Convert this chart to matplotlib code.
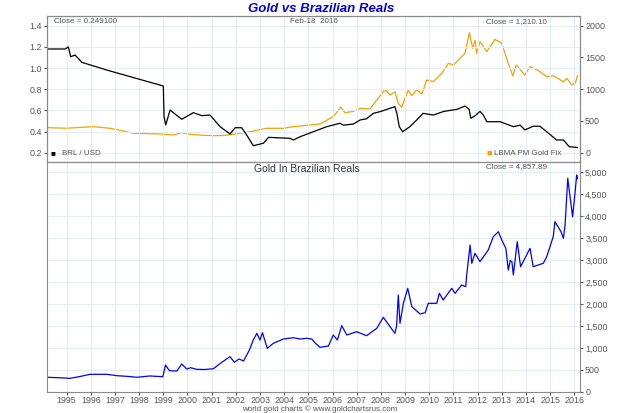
import matplotlib
matplotlib.use('Agg')
import matplotlib.pyplot as plt
from matplotlib.ticker import FuncFormatter

plt.rcParams['font.family'] = ['Liberation Sans', 'DejaVu Sans']

# ---- data (decimal years) ----
brl_years = [1994.2, 1994.94, 1995.07, 1995.17, 1995.35, 1995.63, 1996.66, 1999.0, 1999.03,
             1999.1, 1999.28, 1999.76, 2000.24, 2000.59, 2000.93, 2001.35, 2001.76, 2001.97,
             2002.24, 2002.45, 2002.72, 2003.14, 2003.35, 2004.24, 2004.38, 2004.66, 2005.2,
             2005.76, 2006.31, 2006.45, 2006.86, 2007.14, 2007.4, 2007.69, 2008.0, 2008.38,
             2008.58, 2008.66, 2008.76, 2008.9, 2009.2, 2009.48, 2009.75, 2010.17, 2010.6,
             2011.15, 2011.48, 2011.65, 2011.72, 2011.9, 2012.1, 2012.24, 2012.38, 2012.93,
             2013.48, 2013.76, 2013.96, 2014.3, 2014.58, 2014.86, 2015.27, 2015.55, 2015.79,
             2016.13]
brl_usd = [1.18, 1.18, 1.20, 1.107, 1.123, 1.054, 0.981, 0.830, 0.540,
           0.462, 0.603, 0.516, 0.578, 0.550, 0.556, 0.446, 0.377, 0.436,
           0.436, 0.367, 0.266, 0.289, 0.345, 0.336, 0.320, 0.351, 0.398,
           0.446, 0.478, 0.460, 0.471, 0.509, 0.520, 0.572, 0.590, 0.620,
           0.635, 0.572, 0.446, 0.398, 0.446, 0.509, 0.572, 0.556, 0.590,
           0.610, 0.641, 0.610, 0.525, 0.550, 0.590, 0.556, 0.493, 0.493,
           0.446, 0.460, 0.415, 0.450, 0.450, 0.398, 0.320, 0.320, 0.257,
           0.249]

gold_years = [1994.2, 1995.0, 1996.1, 1996.8, 1997.3, 1997.76, 1998.3, 1998.87, 1999.42,
              1999.76, 2000.1, 2000.6, 2001.07, 2001.5, 2001.9, 2002.58, 2003.27, 2003.97,
              2004.38, 2004.66, 2005.48, 2006.03, 2006.34, 2006.52, 2006.86, 2007.14, 2007.55,
              2007.83, 2008.17, 2008.38, 2008.58, 2008.72, 2008.86, 2009.13, 2009.27, 2009.48,
              2009.7, 2009.9, 2010.17, 2010.52, 2010.79, 2011.0, 2011.27, 2011.48, 2011.66,
              2011.8, 2011.9, 2011.96, 2012.1, 2012.38, 2012.72, 2013.0, 2013.27, 2013.46,
              2013.6, 2013.96, 2014.17, 2014.5, 2014.86, 2015.13, 2015.55, 2015.7, 2015.9,
              2016.05, 2016.13]
gold_usd = [394, 385, 410, 384, 345, 305, 300, 294, 279,
            315, 290, 275, 268, 270, 290, 331, 384, 384,
            410, 420, 452, 567, 715, 630, 650, 699, 690,
            830, 998, 908, 960, 777, 715, 987, 900, 987,
            925, 1145, 1120, 1250, 1407, 1380, 1486, 1565, 1890,
            1644, 1770, 1565, 1750, 1591, 1786, 1723, 1407, 1208,
            1380, 1224, 1355, 1297, 1197, 1213, 1118, 1170, 1066,
            1100, 1210]

real_years = [1994.2, 1994.6, 1995.14, 1995.5, 1995.97, 1996.66, 1997.07, 1997.5, 1997.9,
              1998.2, 1998.45, 1998.98, 1999.09, 1999.25, 1999.56, 1999.76, 1999.97, 2000.13,
              2000.38, 2000.7, 2001.07, 2001.42, 2001.76, 2001.94, 2002.13, 2002.32, 2002.56,
              2002.72, 2002.87, 2003.0, 2003.1, 2003.3, 2003.55, 2003.97, 2004.38, 2004.66,
              2004.93, 2005.14, 2005.3, 2005.48, 2005.83, 2006.03, 2006.2, 2006.38, 2006.59,
              2007.0, 2007.41, 2007.83, 2008.1, 2008.38, 2008.58, 2008.65, 2008.72, 2008.79,
              2008.93, 2009.11, 2009.28, 2009.62, 2009.83, 2009.96, 2010.31, 2010.42, 2010.58,
              2010.93, 2011.07, 2011.34, 2011.51, 2011.55, 2011.69, 2011.76, 2011.89, 2012.1,
              2012.44, 2012.65, 2012.86, 2013.0, 2013.17, 2013.27, 2013.35, 2013.42, 2013.48,
              2013.64, 2013.78, 2014.17, 2014.3, 2014.72, 2014.86, 2015.13, 2015.2, 2015.45,
              2015.55, 2015.62, 2015.73, 2015.8, 2015.93, 2016.03, 2016.1, 2016.13]
gold_brl = [328, 320, 305, 340, 396, 396, 365, 350, 328,
            345, 358, 342, 608, 479, 470, 631, 517, 547,
            510, 505, 524, 670, 798, 670, 745, 700, 950,
            1178, 1330, 1178, 1345, 989, 1103, 1201, 1231, 1200,
            1217, 1201, 1100, 1011, 1042, 1292, 1178, 1504, 1292,
            1367, 1276, 1444, 1695, 1481, 1330, 1500, 2204, 1558,
            2014, 2356, 1937, 1771, 1800, 2014, 2014, 2242, 2090,
            2356, 2242, 2432, 2394, 2660, 3343, 2926, 3154, 2963,
            3229, 3533, 3646, 3457, 3268, 2773, 2990, 2963, 2660,
            3419, 2849, 3268, 2849, 2926, 3077, 3533, 3874, 3650,
            3496, 3800, 4863, 4557, 3988, 4522, 4939, 4858]

year_ticks = list(range(1995, 2017))
brl_ticks = [0.2, 0.4, 0.6, 0.8, 1.0, 1.2, 1.4]
gold_ticks = [0, 500, 1000, 1500, 2000]
real_ticks = list(range(0, 5001, 500))

grid_c = '#e3eef7'
frame_c = '#8a8a8a'
label_c = '#555555'
fs = 5.8

fig = plt.figure(figsize=(6.4, 4.13), dpi=100)

# ---- top panel: BRL/USD (left) and gold in USD (right) ----
ax1 = fig.add_axes([0.0739, 0.6085, 0.8317, 0.3528])
ax2 = ax1.twinx()
ax1.set_xlim(1994.2, 2016.22)
ax1.set_ylim(0.115, 1.492)
ax2.set_ylim(-142, 2153)
ax1.set_xticks(year_ticks)
ax1.set_yticks(brl_ticks)
ax2.set_yticks(gold_ticks)
ax1.grid(True, color=grid_c, lw=0.8)
ax1.set_axisbelow(True)
ax1.tick_params(axis='x', length=0, labelbottom=False)
ax1.tick_params(axis='y', length=2, labelsize=fs + 0.6, colors=label_c, pad=2)
ax2.tick_params(axis='y', length=2, labelsize=fs + 0.6, colors=label_c, pad=2)
ax1.yaxis.set_major_formatter(FuncFormatter(lambda v, p: f'{v:.1f}'))
ax2.plot(gold_years, gold_usd, color='#f5a300', lw=0.9)
ax1.plot(brl_years, brl_usd, color='black', lw=0.9)
ax1.set_zorder(ax2.get_zorder() + 1)
ax1.patch.set_visible(False)
for ax in (ax1, ax2):
    for s in ax.spines.values():
        s.set_color(frame_c)
        s.set_linewidth(0.8)

ax1.text(0.012, 0.985, 'Close = 0.249100', transform=ax1.transAxes, fontsize=fs,
         color=label_c, va='top', ha='left')
ax1.text(0.5, 0.985, 'Feb-18  2016', transform=ax1.transAxes, fontsize=fs,
         color=label_c, va='top', ha='center')
ax1.text(0.939, 0.985, 'Close = 1,210.10', transform=ax1.transAxes, fontsize=fs,
         color=label_c, va='top', ha='right')
ax1.text(0.0065, 0.03, '\u25a0', transform=ax1.transAxes, fontsize=fs,
         color='black', va='bottom', ha='left')
ax1.text(0.028, 0.03, 'BRL / USD', transform=ax1.transAxes, fontsize=fs,
         color=label_c, va='bottom', ha='left')
ax1.text(0.826, 0.03, '\u25a0', transform=ax1.transAxes, fontsize=fs + 1,
         color='#f5a300', va='bottom', ha='left')
ax1.text(0.84, 0.03, 'LBMA PM Gold Fix', transform=ax1.transAxes, fontsize=fs,
         color=label_c, va='bottom', ha='left')

# ---- bottom panel: gold priced in reals ----
ax3 = fig.add_axes([0.0739, 0.0516, 0.8317, 0.5569])
ax3.set_xlim(1994.2, 2016.22)
ax3.set_ylim(0, 5242)
ax3.set_xticks(year_ticks)
ax3.set_xticklabels([str(y) for y in year_ticks])
ax3.yaxis.tick_right()
ax3.set_yticks(real_ticks)
ax3.yaxis.set_major_formatter(FuncFormatter(lambda v, p: f'{int(v):,}'))
ax3.grid(True, color=grid_c, lw=0.8)
ax3.set_axisbelow(True)
ax3.tick_params(axis='x', length=2, labelsize=fs + 0.6, colors=label_c, pad=0.8)
ax3.tick_params(axis='y', length=2, labelsize=fs + 0.6, colors=label_c, pad=2)
ax3.plot(real_years, gold_brl, color='#0000ff', lw=0.9)
for s in ax3.spines.values():
    s.set_color(frame_c)
    s.set_linewidth(0.8)

ax3.text(0.488, 0.992, 'Gold In Brazilian Reals', transform=ax3.transAxes, fontsize=7.5,
         color='#333333', va='top', ha='center')
ax3.text(0.939, 0.992, 'Close = 4,857.89', transform=ax3.transAxes, fontsize=fs,
         color=label_c, va='top', ha='right')

fig.text(0.502, 0.979, 'Gold vs Brazilian Reals', fontsize=9.5, fontweight='bold',
         fontstyle='italic', color='#0000ee', ha='center', va='center')
fig.text(0.5, 0.0104, 'world gold charts \u00a9 www.goldchartsrus.com', fontsize=fs,
         color=label_c, ha='center', va='center')

fig.savefig('out.png', dpi=100)
